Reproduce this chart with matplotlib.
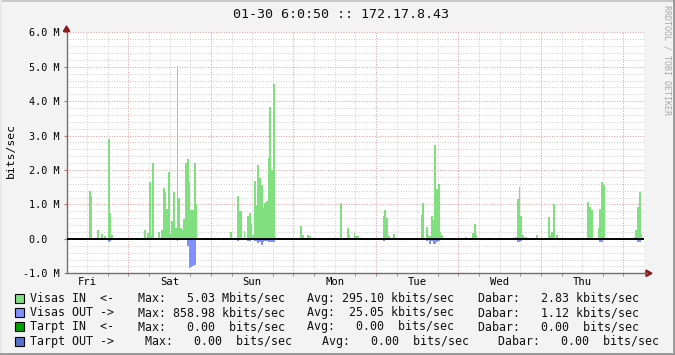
import matplotlib
matplotlib.use("Agg")
import matplotlib.pyplot as plt
from matplotlib.patches import Rectangle, Polygon
from matplotlib.lines import Line2D

# 30 minute buckets, hours since Fri 06:00:50, values in Mbits/sec
in_hours = [6.5, 7.0, 9.0, 10.0, 11.0, 12.0, 12.5, 13.0, 21.0,
            22.5, 23.5, 24.0, 24.5, 25.0, 26.5, 27.5, 28.0, 28.5, 29.0, 29.5,
            30.0, 30.5, 31.0, 31.5, 32.0, 32.5, 33.0, 33.5, 34.0, 34.5, 35.0,
            35.5, 36.0, 36.5, 37.0, 37.5,
            47.5, 49.5, 50.0, 50.5, 51.5, 52.5, 53.0, 53.5, 54.0, 54.5, 55.0,
            55.5, 56.0, 56.5, 57.0, 57.5, 58.0, 58.5, 59.0, 59.5, 60.0, 60.5,
            68.0, 68.5, 70.0, 70.5, 79.5, 81.0, 81.5, 82.0, 83.5, 84.0, 84.5,
            92.0, 92.5, 93.0, 93.5, 95.0, 103.0, 103.5, 104.5, 105.0, 105.5,
            106.0, 106.5, 107.0, 107.5, 108.0, 108.5, 109.0,
            116.0, 118.0, 118.5, 119.0, 127.5, 130.5, 131.0, 131.5, 132.0,
            132.5, 133.5, 136.5, 140.0, 140.5, 141.0, 141.5, 142.0, 142.5, 143.0,
            151.5, 152.0, 152.5, 153.0, 154.5, 155.0, 155.5, 156.0, 156.5,
            165.0, 165.5, 166.0, 166.5, 167.0]
in_vals = [1.40, 1.25, 0.27, 0.15, 0.07, 2.90, 0.76, 0.12, 0.02,
           0.27, 0.18, 1.66, 0.12, 2.21, 0.20, 0.27, 1.49, 1.37, 0.88, 1.95,
           0.15, 0.53, 1.37, 0.33, 5.03, 1.20, 0.33, 0.27, 0.58, 2.21, 2.33,
           1.66, 0.85, 0.85, 2.21, 1.02,
           0.19, 1.25, 0.82, 0.82, 0.24, 0.65, 0.76, 0.44, 0.10, 1.69, 0.97,
           2.15, 1.78, 1.57, 0.91, 1.05, 1.11, 2.36, 3.83, 2.00, 4.50, 0.06,
           0.38, 0.12, 0.12, 0.07, 1.05, 0.03, 0.32, 0.12, 0.18, 0.07, 0.07,
           0.67, 0.85, 0.62, 0.07, 0.15, 0.70, 1.05, 0.35, 0.12, 0.09,
           0.67, 0.56, 2.73, 1.46, 1.60, 0.20, 0.12,
           0.06, 0.18, 0.44, 0.12, 0.03, 0.06, 1.17, 1.52, 0.67,
           0.12, 0.06, 0.12, 0.64, 0.10, 0.20, 1.00, 0.03, 0.11, 0.03,
           1.08, 0.94, 0.85, 0.03, 0.33, 0.88, 1.66, 1.57, 0.03,
           0.06, 0.27, 0.94, 1.37, 0.15]

out_hours = [6.5, 7.0, 12.0, 12.5, 24.0, 24.5, 25.0, 28.0, 28.5, 29.5, 30.5,
             31.0, 32.0, 33.5, 34.0, 34.5, 35.0, 35.5, 36.0, 36.5, 37.0, 37.5,
             47.5, 49.5, 52.5, 53.0, 54.5, 55.0, 55.5, 56.0, 56.5, 57.0, 57.5,
             58.0, 58.5, 59.0, 59.5, 60.0, 79.5, 92.0, 104.5, 105.5, 106.0,
             106.5, 107.0, 107.5, 108.0, 131.0, 131.5, 132.0, 141.0, 141.5,
             151.5, 152.0, 152.5, 155.0, 155.5, 166.0, 166.5]
out_vals = [0.03, 0.03, 0.10, 0.06, 0.03, 0.03, 0.03, 0.02, 0.02, 0.02, 0.02,
            0.02, 0.06, 0.02, 0.02, 0.02, 0.22, 0.86, 0.82, 0.79, 0.77, 0.03,
            0.03, 0.05, 0.05, 0.05, 0.06, 0.06, 0.12, 0.08, 0.17, 0.10, 0.05,
            0.05, 0.09, 0.08, 0.09, 0.09, 0.03, 0.05, 0.05, 0.15, 0.05,
            0.16, 0.16, 0.10, 0.05, 0.08, 0.08, 0.06, 0.04, 0.04,
            0.04, 0.04, 0.04, 0.10, 0.08, 0.10, 0.10]

day_names = ["Fri", "Sat", "Sun", "Mon", "Tue", "Wed", "Thu"]
y_labels = ["-1.0 M", "0.0  ", "1.0 M", "2.0 M", "3.0 M", "4.0 M", "5.0 M", "6.0 M"]

legend_rows = [
    ("Visas IN  <-", "Max:   5.03 Mbits/sec", "Avg: 295.10 kbits/sec", "Dabar:   2.83 kbits/sec"),
    ("Visas OUT ->", "Max: 858.98 kbits/sec", "Avg:  25.05 kbits/sec", "Dabar:   1.12 kbits/sec"),
    ("Tarpt IN  <-", "Max:   0.00  bits/sec", "Avg:   0.00  bits/sec", "Dabar:   0.00  bits/sec"),
    ("Tarpt OUT ->", "Max:   0.00  bits/sec", "Avg:   0.00  bits/sec", "Dabar:   0.00  bits/sec"),
]
legend_colors = ["#80E080", "#8090FF", "#00A000", "#5470C8"]

W, H = 675, 355
MONO = "DejaVu Sans Mono"


def fx(x):
    return x / W


def fy(y):
    return 1 - y / H


fig = plt.figure(figsize=(W / 100, H / 100), dpi=100, facecolor="#F3F3F3")

left, right, top, bottom = 66.5, 644.0, 32.3, 273.3
ax = fig.add_axes([fx(left), fy(bottom), fx(right - left), (bottom - top) / H])
ax.set_facecolor("white")
ax.set_xlim(0, 168)
ax.set_ylim(-1, 6)

# grid
for k in range(1, 28):
    h = k * 6
    if h % 24 == 18:
        ax.axvline(h, color="#E0A0A0", lw=0.75, ls=(0, (1, 1.5)), zorder=0.6)
    else:
        ax.axvline(h, color="#D0D0D0", lw=0.75, ls=(0, (1, 1.5)), zorder=0.5)
for k in range(-5, 31):
    v = k * 0.2
    if k % 5 == 0:
        ax.axhline(v, color="#E0A0A0", lw=0.75, ls=(0, (1, 1.5)), zorder=0.6)
    else:
        ax.axhline(v, color="#D0D0D0", lw=0.75, ls=(0, (1, 1.5)), zorder=0.5)

# bars slightly wider than a bucket so neighbours touch without gaps
ax.bar(in_hours, in_vals, width=0.56, align="edge", color=legend_colors[0],
       linewidth=0, antialiased=False, zorder=2)
ax.bar(out_hours, [-v for v in out_vals], width=0.56, align="edge",
       color=legend_colors[1], linewidth=0, antialiased=False, zorder=2)
ax.axhline(0, color="black", lw=1.4, zorder=3)

for s in ["top", "right"]:
    ax.spines[s].set_visible(False)
for s in ["left", "bottom"]:
    ax.spines[s].set_color("#707070")
    ax.spines[s].set_linewidth(1.0)

ax.set_yticks(range(-1, 7))
ax.set_yticklabels(y_labels, family=MONO, fontsize=7.3)
ax.tick_params(axis="y", length=2.5, width=0.8, color="#C07070", pad=2.2)
ax.set_xticks([6 + 24 * i for i in range(7)])
ax.set_xticklabels(day_names, family=MONO, fontsize=7.6)
ax.set_xticks(range(6, 168, 6), minor=True)
ax.tick_params(axis="x", which="major", length=0, pad=3)
ax.tick_params(axis="x", which="minor", length=2, width=0.7, color="#909090")

# axis arrows
fig.patches.append(Polygon([(fx(63.3), fy(31.5)), (fx(69.8), fy(31.5)), (fx(66.5), fy(26))],
                           closed=True, color="#8B1A1A", transform=fig.transFigure))
fig.patches.append(Polygon([(fx(646), fy(270)), (fx(646), fy(276.5)), (fx(652), fy(273.3))],
                           closed=True, color="#8B1A1A", transform=fig.transFigure))
fig.lines.append(Line2D([fx(644), fx(647)], [fy(273.3), fy(273.3)], color="#707070",
                        lw=1.0, transform=fig.transFigure))

# texts
fig.text(fx(341), fy(14), "01-30 6:0:50 :: 172.17.8.43", family=MONO, fontsize=9.6,
         ha="center", va="center", color="#111111")
fig.text(fx(11), fy(150), "bits/sec", family=MONO, fontsize=8.2, rotation=90,
         ha="center", va="center")
fig.text(fx(667), fy(5), "RRDTOOL / TOBI OETIKER", family=MONO, fontsize=6,
         rotation=270, ha="center", va="top", color="#A8A8A8")

row_y = [298.3, 312.8, 326.8, 341.0]
col_x = [(30.5, 137.5, 306.7, 477.7)] * 3 + [(30.5, 145.0, 321.5, 498.3)]
for i, row in enumerate(legend_rows):
    y = row_y[i]
    fig.patches.append(Rectangle((fx(15), fy(y + 4.5)), 9 / W, 9 / H, facecolor=legend_colors[i],
                                 edgecolor="black", lw=0.8, transform=fig.transFigure))
    for x, txt in zip(col_x[i], row):
        fig.text(fx(x), fy(y), txt, family=MONO, fontsize=8.4, ha="left", va="center",
                 color="#111111")

# frame
fig.lines.append(Line2D([0, 1], [fy(0.7), fy(0.7)], color="#C8C8C8", lw=1.4, transform=fig.transFigure))
fig.lines.append(Line2D([fx(0.7), fx(0.7)], [0, 1], color="#E8E8E8", lw=1.4, transform=fig.transFigure))
fig.lines.append(Line2D([0, 1], [fy(354.3), fy(354.3)], color="#999999", lw=1.4, transform=fig.transFigure))
fig.lines.append(Line2D([fx(674.3), fx(674.3)], [0, 1], color="#999999", lw=1.4, transform=fig.transFigure))

fig.savefig("out.png", dpi=100, facecolor=fig.get_facecolor())
